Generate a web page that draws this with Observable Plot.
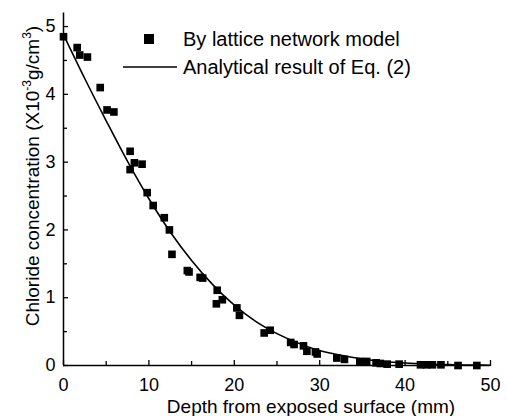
<!DOCTYPE html>
<html>
<head>
<meta charset="utf-8">
<script src="https://cdn.jsdelivr.net/npm/d3@7"></script>
<script src="https://cdn.jsdelivr.net/npm/@observablehq/plot@0.6"></script>
<style>
  html, body { margin: 0; padding: 0; background: #fff; }
  #chart { position: relative; width: 507px; height: 416px; }
  svg { font-family: "Liberation Sans", Arial, sans-serif; }
</style>
</head>
<body>
<div id="chart"></div>
<script>
// Lattice network model points
const depth = [0, 1.6, 1.9, 2.8, 4.3, 5.1, 5.9, 7.8, 7.8, 8.3, 9.2, 9.8, 10.5, 11.8, 12.4, 12.7, 14.5, 14.7, 16.0, 16.3, 18.0, 17.9, 18.6, 20.3, 20.6, 23.5, 24.2, 26.6, 27.0, 28.1, 28.5, 29.5, 29.7, 32.0, 32.9, 34.7, 35.5, 36.6, 37.1, 37.9, 39.3, 41.8, 42.5, 43.2, 44.2, 46.2, 48.4];
const conc  = [4.85, 4.69, 4.58, 4.55, 4.10, 3.77, 3.74, 3.16, 2.89, 2.99, 2.97, 2.55, 2.36, 2.18, 2.00, 1.64, 1.40, 1.38, 1.30, 1.29, 1.11, 0.91, 0.97, 0.85, 0.74, 0.48, 0.52, 0.34, 0.31, 0.29, 0.21, 0.20, 0.17, 0.11, 0.09, 0.06, 0.06, 0.04, 0.03, 0.02, 0.02, 0.01, 0.01, 0.01, 0.01, 0.0, 0.0];

// Analytical result of Eq. (2)
const curveDepth = [0, 2.5, 5, 7.5, 10, 12.5, 15, 17.5, 20, 22.5, 25, 27.5, 30, 32.5, 35, 37.5, 40, 42.5, 45, 47.5, 50];
const curveConc  = [4.88, 4.23, 3.61, 3.01, 2.46, 1.97, 1.55, 1.19, 0.89, 0.65, 0.47, 0.33, 0.22, 0.15, 0.095, 0.06, 0.037, 0.022, 0.013, 0.007, 0.004];

const xTicks = [0, 10, 20, 30, 40, 50];
const xMinor = [5, 15, 25, 35, 45];
const yTicks = [0, 1, 2, 3, 4, 5];
const yMinor = [0.5, 1.5, 2.5, 3.5, 4.5];

const legendPoints = "By lattice network model";
const legendLine = "Analytical result of Eq. (2)";
const xTitle = "Depth from exposed surface (mm)";

const points = depth.map((d, i) => ({depth: d, conc: conc[i]}));
const curve = curveDepth.map((d, i) => ({depth: d, conc: curveConc[i]}));
const fmt = d3.format("d");

const chart = Plot.plot({
  width: 507,
  height: 416,
  marginLeft: 63,
  marginRight: 17,
  marginTop: 12.5,
  marginBottom: 51,
  style: {fontFamily: "'Liberation Sans', Arial, sans-serif", fontSize: "18px", color: "#000", background: "#fff"},
  x: {domain: [0, 50]},
  y: {domain: [0, 5.2]},
  marks: [
    Plot.axisX(xTicks, {tickSize: -5, tickPadding: 18, label: null, fontSize: 18, strokeWidth: 1.3, tickFormat: fmt}),
    Plot.axisX(xMinor, {tickSize: -4, text: null, label: null, strokeWidth: 1.3}),
    Plot.axisY(yTicks, {tickSize: -5, tickPadding: 13, label: null, fontSize: 18, strokeWidth: 1.3, tickFormat: fmt}),
    Plot.axisY(yMinor, {tickSize: -4, text: null, label: null, strokeWidth: 1.3}),
    Plot.ruleY([0], {strokeWidth: 1.5}),
    Plot.ruleX([0], {strokeWidth: 1.5}),
    Plot.line(curve, {x: "depth", y: "conc", curve: "monotone-x", stroke: "#000", strokeWidth: 1.6}),
    Plot.dot(points, {x: "depth", y: "conc", symbol: "square", r: 4.3, fill: "#000", stroke: null})
  ]
});

document.getElementById("chart").appendChild(chart);

const svg = d3.select(chart);
// Axis titles
svg.append("text")
  .attr("x", 311).attr("y", 413)
  .attr("text-anchor", "middle")
  .attr("font-size", 19)
  .attr("fill", "#000")
  .text(xTitle);

const yt = svg.append("text")
  .attr("transform", "translate(39,176) rotate(-90)")
  .attr("text-anchor", "middle")
  .attr("font-size", 19)
  .attr("fill", "#000");
yt.append("tspan").text("Chloride concentration (X10");
yt.append("tspan").attr("font-size", 12).attr("dy", -8).text("-3");
yt.append("tspan").attr("dy", 8).text("g/cm");
yt.append("tspan").attr("font-size", 12).attr("dy", -8).text("3");
yt.append("tspan").attr("dy", 8).text(")");

// Legend
const lg = svg.append("g").attr("text-anchor", "start");
lg.append("rect").attr("x", 144).attr("y", 34).attr("width", 10).attr("height", 10).attr("fill", "#000");
lg.append("text").attr("x", 183).attr("y", 46).attr("text-anchor", "start").attr("font-size", 20).attr("fill", "#000").text(legendPoints);
lg.append("line").attr("x1", 123).attr("x2", 177).attr("y1", 67).attr("y2", 67).attr("stroke", "#000").attr("stroke-width", 1.5);
lg.append("text").attr("x", 183).attr("y", 74).attr("text-anchor", "start").attr("font-size", 20).attr("fill", "#000").text(legendLine);
</script>
</body>
</html>
